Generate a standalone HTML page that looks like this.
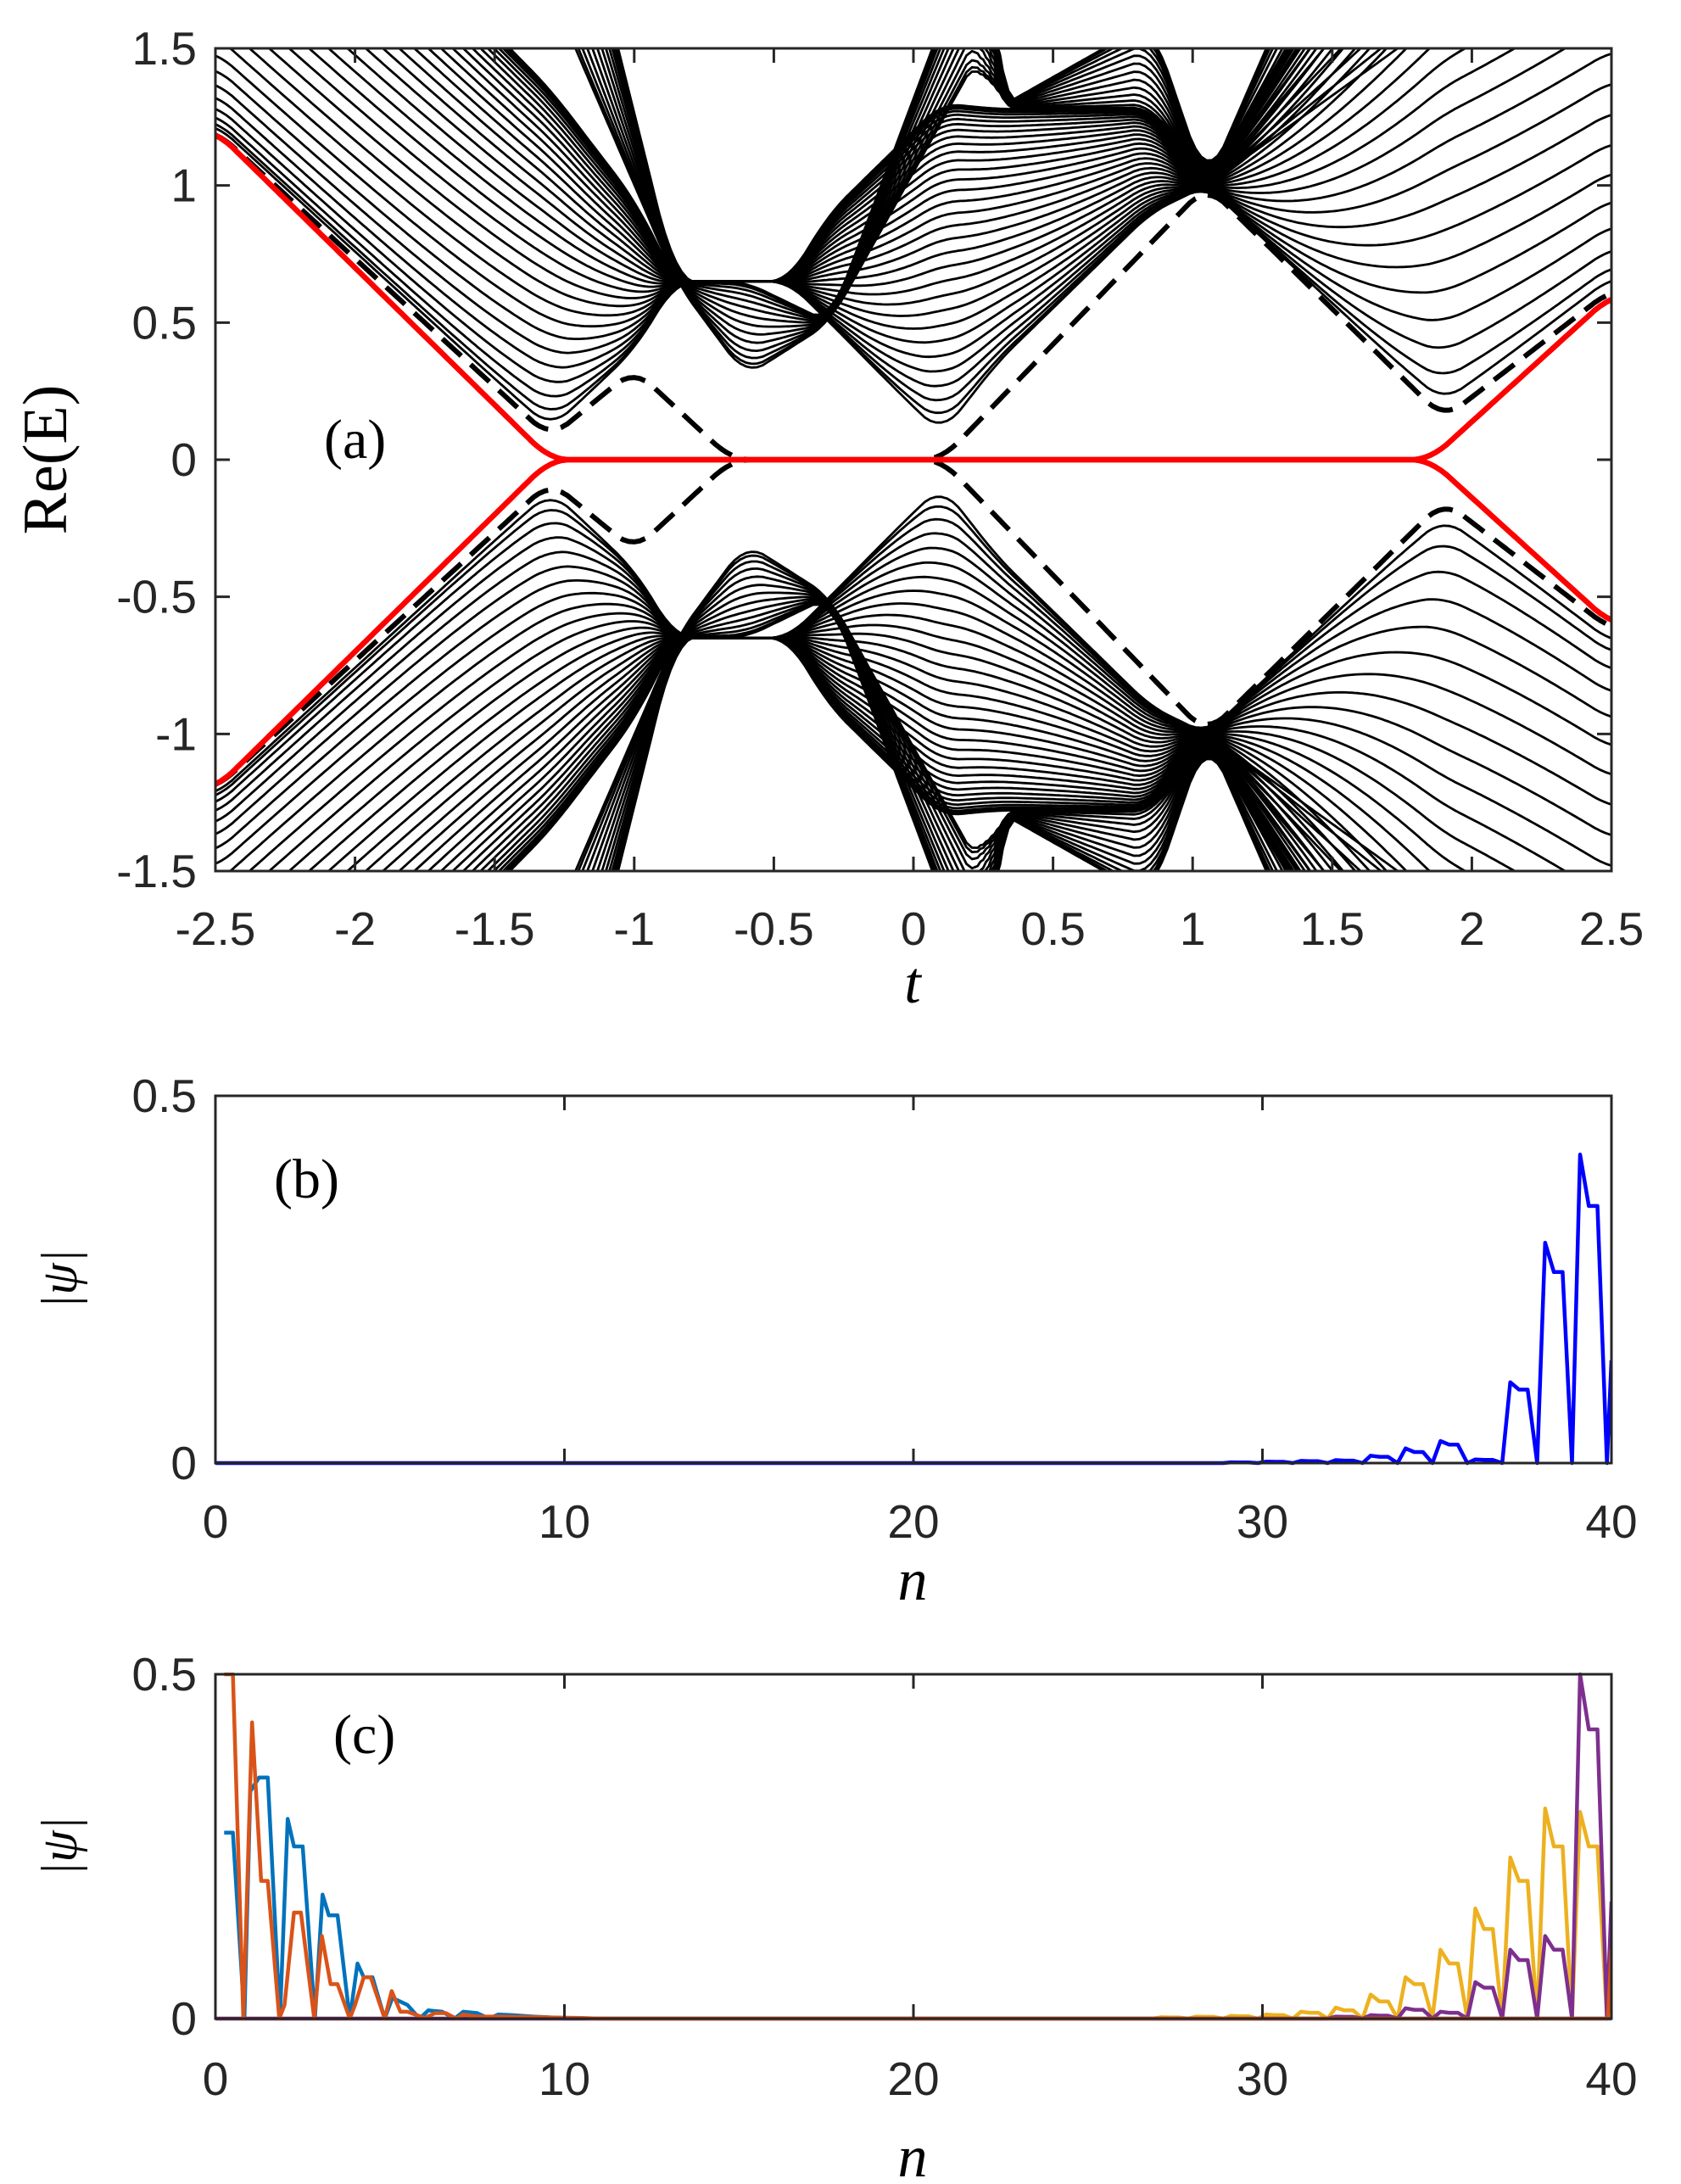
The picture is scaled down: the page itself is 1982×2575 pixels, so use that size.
<!DOCTYPE html>
<html><head><meta charset="utf-8"><style>
html,body{margin:0;padding:0;background:#fff;}
svg{display:block;}
text{font-family:"Liberation Sans",sans-serif;}
.s{font-family:"Liberation Serif",serif;}
</style></head><body>
<svg id="g" width="1982" height="2575" viewBox="0 0 1982 2575" xmlns="http://www.w3.org/2000/svg">
<defs><clipPath id="ca"><rect x="254" y="57" width="1646" height="970"/></clipPath>
<clipPath id="cb"><rect x="254" y="1290" width="1646" height="440"/></clipPath>
<clipPath id="cc"><rect x="254" y="1972" width="1646" height="412"/></clipPath></defs>
<g id="A" clip-path="url(#ca)"></g>
<g id="B" clip-path="url(#cb)"></g>
<g id="C" clip-path="url(#cc)"></g>
<g id="AX"></g>
<text class="s" x="382" y="540" font-size="66">(a)</text>
<text class="s" x="323" y="1412" font-size="66">(b)</text>
<text class="s" x="393" y="2067" font-size="66">(c)</text>
<text class="s" x="0" y="0" font-size="74" text-anchor="middle" transform="translate(78,542) rotate(-90)">Re(E)</text>
<text class="s" x="1076" y="1182" font-size="70" font-style="italic" text-anchor="middle">t</text>
<text class="s" x="1076" y="1886" font-size="70" font-style="italic" text-anchor="middle">n</text>
<text class="s" x="1076" y="2566" font-size="70" font-style="italic" text-anchor="middle">n</text>
<text class="s" x="0" y="0" font-size="60" font-style="italic" text-anchor="middle" transform="translate(90,1508) rotate(-90)">|ψ|</text>
<text class="s" x="0" y="0" font-size="60" font-style="italic" text-anchor="middle" transform="translate(90,2177) rotate(-90)">|ψ|</text>
</svg>
<script>
var NS="http://www.w3.org/2000/svg";
function el(p,tag,attrs){var e=document.createElementNS(NS,tag);for(var k in attrs)e.setAttribute(k,attrs[k]);p.appendChild(e);return e;}
function interp(ts,vs,t){if(t<=ts[0])return vs[0];for(var i=1;i<ts.length;i++){if(t<=ts[i]){var f=(t-ts[i-1])/(ts[i]-ts[i-1]);return vs[i-1]+f*(vs[i]-vs[i-1]);}}return vs[vs.length-1];}
function smooth(ts,vs,t){var s=0,n=0;for(var d=-0.06;d<=0.0601;d+=0.02){s+=interp(ts,vs,t+d);n++;}return s/n;}
var X=function(t){return 254+(t+2.5)/5*1646;};
var Y=function(E){return 542-E*323.33;};
var A=document.getElementById('A');
function family(ts,lo,hi,N){
 for(var j=1;j<=N;j++){var k=Math.PI*j/(N+1);
  var up="",dn="";
  for(var t=-2.5;t<=2.5001;t+=0.01){var l=smooth(ts,lo,t),h=smooth(ts,hi,t);var a=(h+l)/2,b=(h-l)/2;
   var E=Math.sqrt(Math.max(0,a*a+b*b+2*a*b*Math.cos(k)));
   up+=(up?"L":"M")+X(t).toFixed(1)+","+Y(E).toFixed(1);
   dn+=(dn?"L":"M")+X(t).toFixed(1)+","+Y(-E).toFixed(1);}
  el(A,"path",{d:up,fill:"none",stroke:"#000","stroke-width":2.8});
  el(A,"path",{d:dn,fill:"none",stroke:"#000","stroke-width":2.8});}
}
family([-2.5,-1.3,-1.0,-0.85,-0.45,-0.3,0.1,0.3,0.85,1.05,1.9,2.5],
       [1.22,0.1,0.4,0.65,0.65,0.5,0.08,0.35,0.9,1.0,0.18,0.65],
       [2.6,1.35,0.95,0.65,0.65,0.9,1.3,1.28,1.28,1.0,2.5,3.0],32);
family([-2.5,-1.3,-0.85,-0.6,-0.3,0.25,0.3,0.85,1.05,1.9,2.5],
       [3.0,1.7,0.65,0.3,0.5,1.5,1.28,1.28,1.0,1.6,2.0],
       [4,2.5,0.65,0.65,0.5,2.0,1.28,1.6,1.0,3,3],14);
var dts=[-2.5,-1.3,-1.0,-0.65,0.1,1.05,1.9,2.5],dvs=[1.2,0.08,0.33,0.0,0.0,1.0,0.15,0.62];
var u="",d="";for(var t=-2.5;t<=2.5001;t+=0.01){var E=smooth(dts,dvs,t);u+=(u?"L":"M")+X(t).toFixed(1)+","+Y(E).toFixed(1);d+=(d?"L":"M")+X(t).toFixed(1)+","+Y(-E).toFixed(1);}
el(A,"path",{d:u,fill:"none",stroke:"#000","stroke-width":6,"stroke-dasharray":"30 15"});
el(A,"path",{d:d,fill:"none",stroke:"#000","stroke-width":6,"stroke-dasharray":"30 15"});
var rts=[-2.5,-1.3,1.85,2.5],rvs=[1.2,0,0,0.6];
u="";d="";for(var t=-2.5;t<=2.5001;t+=0.01){var E=smooth(rts,rvs,t);u+=(u?"L":"M")+X(t).toFixed(1)+","+Y(E).toFixed(1);d+=(d?"L":"M")+X(t).toFixed(1)+","+Y(-E).toFixed(1);}
el(A,"path",{d:u,fill:"none",stroke:"#f00","stroke-width":6.5});
el(A,"path",{d:d,fill:"none",stroke:"#f00","stroke-width":6.5});
function NX(n){return 254+n*41.15;}
function cells(peaks,shoulder,off){
 var pts=[[0,0]];for(var j=0;j<40;j++){var p=peaks[j]||0;var s=shoulder[j]!==undefined?shoulder[j]:p*0.85;
  pts.push([j+off,p]);pts.push([j+off+0.25,s]);pts.push([j+off+0.5,s]);pts.push([j+0.87,0]);}
 return pts;}
function draw(g,pts,Yf,col){var s="";pts.forEach(function(p){s+=(s?"L":"M")+NX(p[0]).toFixed(1)+","+Yf(p[1]).toFixed(1);});el(g,"path",{d:s,fill:"none",stroke:col,"stroke-width":4.5,"stroke-linejoin":"round"});}
var YB=function(v){return 1725-v*866;},YC=function(v){return 2380-v*812;};
var bp={39:0.42,38:0.3,37:0.11,36:0.005,35:0.03,34:0.02,33:0.01,32:0.004,31:0.003,30:0.002,29:0.001},bs={39:0.35,38:0.26,37:0.1,35:0.025,34:0.015};
var pb=cells(bp,bs,0.1);pb.push([40,0.14]);
draw(document.getElementById('B'),pb,YB,"#0000ff");
var C=document.getElementById('C');
var yp={39:0.3,38:0.305,37:0.234,36:0.16,35:0.1,34:0.06,33:0.035,32:0.016,31:0.01,30:0.006,29:0.004,28:0.003,27:0.002},ys={39:0.25,38:0.25,37:0.2,36:0.13,35:0.08,34:0.05,33:0.025,32:0.012};
var py=cells(yp,ys,0.1);py.push([40,0.09]);
var pp={39:0.5,38:0.12,37:0.1,36:0.053,35:0.01,34:0.015,33:0.005,32:0.003},ps={39:0.42,38:0.1,37:0.085,36:0.045};
var ppu=cells(pp,ps,0.1);ppu.push([40,0.17]);
var blue=[[0.25,0.27],[0.5,0.27],[0.83,0],[1.0,0.33],[1.25,0.35],[1.5,0.35],[1.85,0],[2.07,0.29],[2.25,0.25],[2.5,0.25],[2.85,0],[3.07,0.18],[3.25,0.15],[3.5,0.15],[3.85,0],[4.07,0.08],[4.25,0.06],[4.5,0.06],[4.85,0],[5.07,0.03],[5.5,0.02],[5.85,0],[6.1,0.012],[6.5,0.01],[6.85,0],[7.1,0.01],[7.5,0.008],[7.85,0],[8.1,0.006],[8.5,0.005],[9.1,0.003],[9.5,0.002],[10,0],[40,0]];
var orange=[[0.25,0.5],[0.5,0.5],[0.8,0],[1.05,0.43],[1.31,0.2],[1.5,0.2],[1.83,0],[1.98,0.02],[2.25,0.154],[2.45,0.154],[2.83,0],[3.05,0.12],[3.3,0.05],[3.5,0.05],[3.85,0],[4.0,0.02],[4.25,0.06],[4.45,0.06],[4.85,0],[5.05,0.04],[5.3,0.01],[5.5,0.01],[6.0,0.001],[6.3,0.008],[6.6,0.008],[6.9,0],[7.1,0.006],[7.5,0.003],[8.0,0.003],[10.5,0.001],[11,0],[39.9,0],[40,0.1]];
draw(C,blue,YC,"#0072BD");
draw(C,py,YC,"#EDB120");
draw(C,ppu,YC,"#7E2F8E");
draw(C,orange,YC,"#D95319");
var AX=document.getElementById('AX');
function box(x0,y0,x1,y1){el(AX,"rect",{x:x0,y:y0,width:x1-x0,height:y1-y0,fill:"none",stroke:"#262626","stroke-width":3});}
function txt(x,y,s,anchor){var e=el(AX,"text",{x:x,y:y,"font-size":55,"text-anchor":anchor,fill:"#262626"});e.textContent=s;}
box(254,57,1900,1027);
for(var i=0;i<=10;i++){var t=-2.5+i*0.5,x=X(t);el(AX,"line",{x1:x,y1:1027,x2:x,y2:1010,stroke:"#262626","stroke-width":3});el(AX,"line",{x1:x,y1:57,x2:x,y2:74,stroke:"#262626","stroke-width":3});
 var lab=(Math.abs(t)<1e-9)?"0":(""+t);txt(x,1114,lab,"middle");}
for(var i=0;i<=6;i++){var E=-1.5+i*0.5,y=Y(E);el(AX,"line",{x1:254,y1:y,x2:271,y2:y,stroke:"#262626","stroke-width":3});el(AX,"line",{x1:1900,y1:y,x2:1883,y2:y,stroke:"#262626","stroke-width":3});
 txt(232,y+19,(Math.abs(E)<1e-9)?"0":""+E,"end");}
function panel(y0,y1,ylab){box(254,y0,1900,y1);
 for(var i=0;i<=4;i++){var x=NX(i*10);el(AX,"line",{x1:x,y1:y1,x2:x,y2:y1-17,stroke:"#262626","stroke-width":3});el(AX,"line",{x1:x,y1:y0,x2:x,y2:y0+17,stroke:"#262626","stroke-width":3});txt(x,ylab,""+(i*10),"middle");}
 txt(232,y0+19,"0.5","end");txt(232,y1+19,"0","end");}
panel(1292,1725,1813);
panel(1974,2380,2470);
</script>
</body></html>
